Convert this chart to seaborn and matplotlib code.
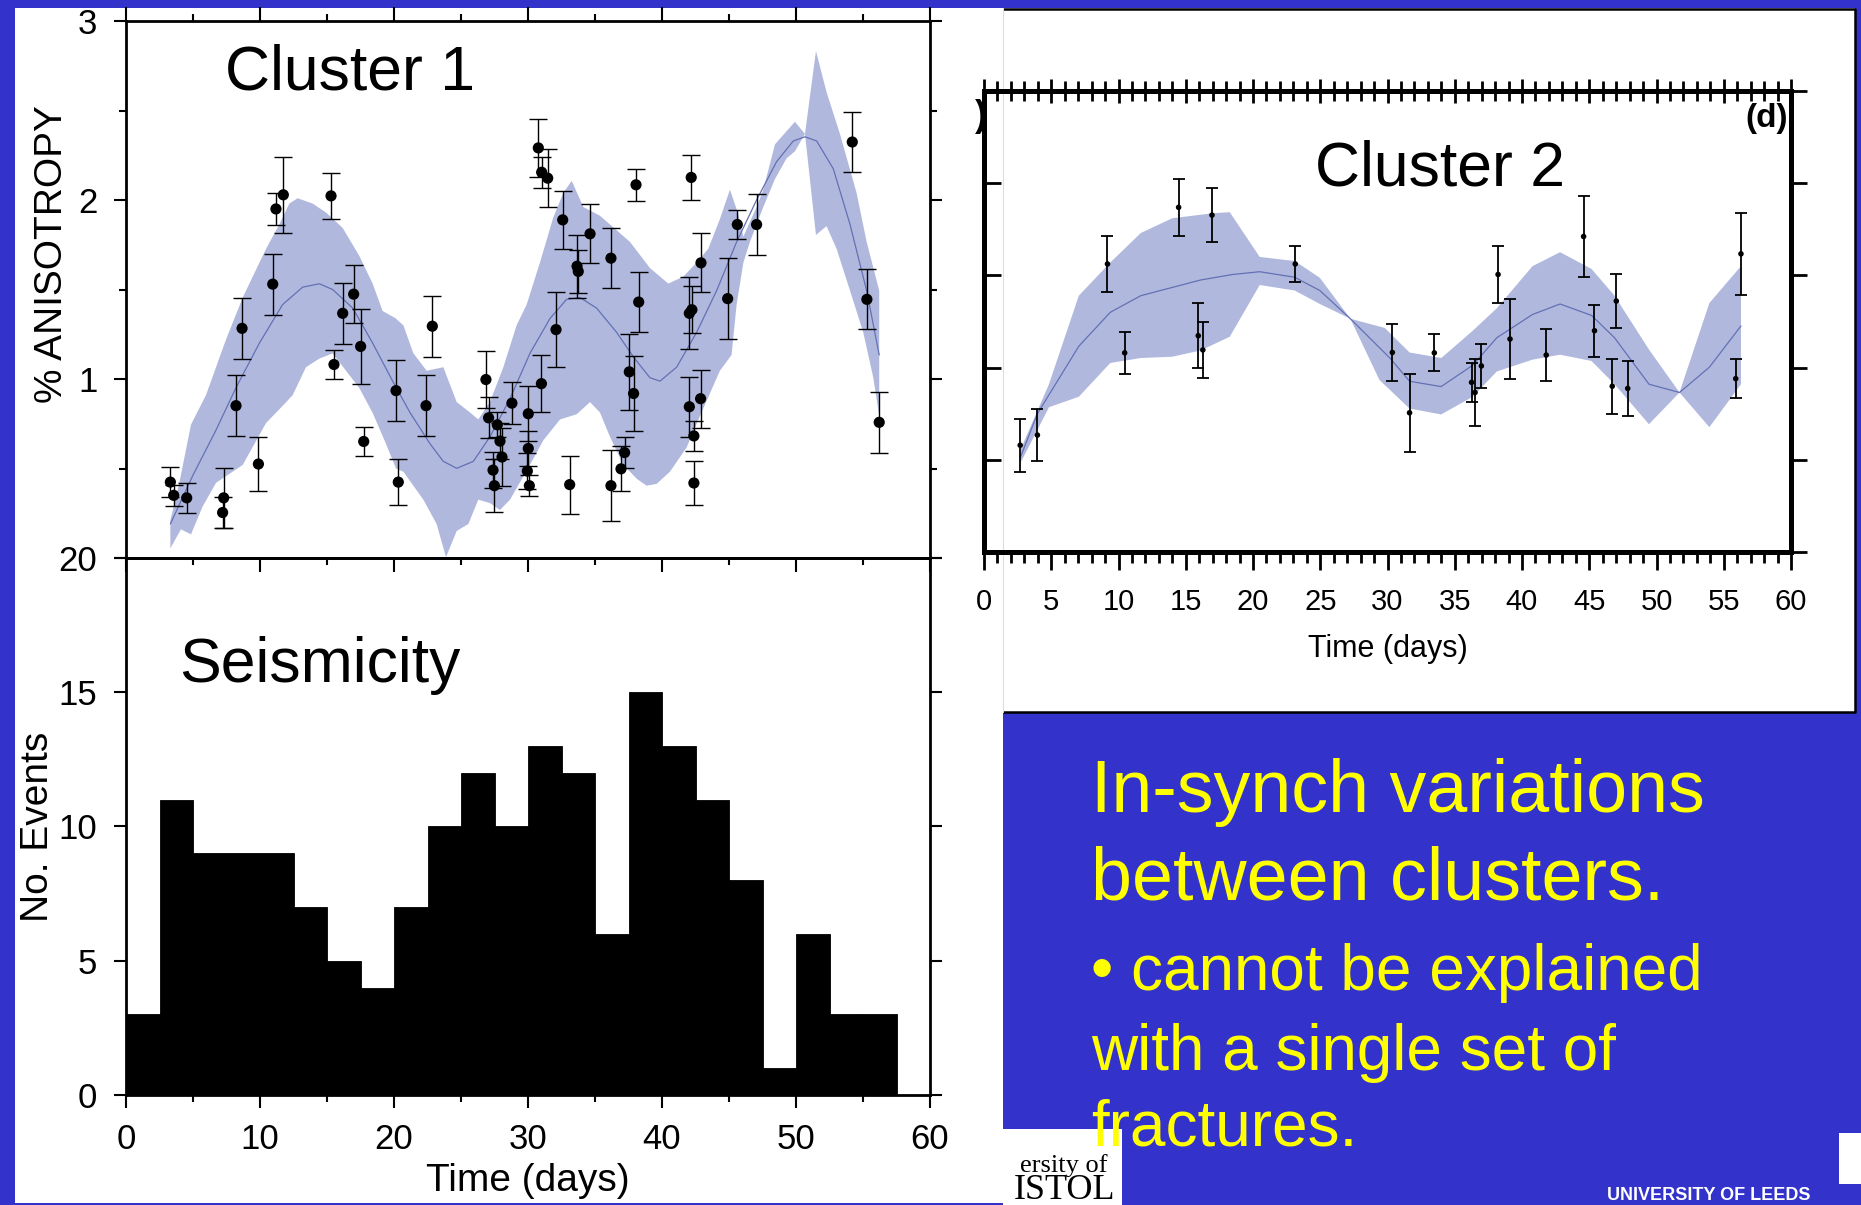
import numpy as np
import matplotlib
matplotlib.use("Agg")
import matplotlib.pyplot as plt
import seaborn as sns
from matplotlib.patches import Rectangle
from matplotlib.ticker import MultipleLocator, NullFormatter

# ---------------- data ----------------
# Cluster 1 : shear-wave anisotropy measurements (time in days, % anisotropy, error)
c1_days = [3.31, 3.56, 4.53, 7.29, 7.21, 8.21, 8.66, 9.88, 10.95, 11.19, 11.74, 15.30, 15.52,
           16.17, 16.99, 17.51, 17.74, 20.15, 20.32, 22.39, 22.86, 26.86, 27.06, 27.39, 27.49,
           27.71, 27.91, 28.06, 28.80, 30.02, 30.02, 29.95, 30.10, 31.00, 32.09, 30.77, 31.02,
           31.47, 32.59, 33.66, 33.75, 34.63, 33.11, 36.19, 36.19, 36.94, 37.21, 37.56, 37.88,
           38.06, 38.26, 42.18, 42.91, 42.04, 42.23, 44.90, 45.62, 47.06, 42.04, 42.88, 42.38,
           42.38, 54.20, 55.29, 56.21]
c1_aniso = [0.424, 0.35, 0.336, 0.336, 0.254, 0.851, 1.283, 0.525, 1.53, 1.95, 2.029, 2.023, 1.081,
            1.367, 1.474, 1.182, 0.651, 0.935, 0.424, 0.851, 1.295, 0.997, 0.783, 0.491, 0.404,
            0.744, 0.653, 0.564, 0.865, 0.806, 0.612, 0.486, 0.404, 0.974, 1.276, 2.291, 2.155,
            2.122, 1.889, 1.63, 1.601, 1.811, 0.41, 1.675, 0.404, 0.498, 0.589, 1.04, 0.919,
            2.085, 1.43, 2.126, 1.649, 1.367, 1.387, 1.449, 1.863, 1.863, 0.845, 0.89, 0.682,
            0.419, 2.324, 1.445, 0.758]
c1_err = [0.085, 0.06, 0.083, 0.167, 0.085, 0.17, 0.172, 0.153, 0.17, 0.087, 0.211, 0.127, 0.083,
          0.17, 0.163, 0.21, 0.08, 0.17, 0.128, 0.17, 0.17, 0.16, 0.115, 0.1, 0.147,
          0.07, 0.1, 0.16, 0.118, 0.155, 0.1, 0.1, 0.06, 0.161, 0.211, 0.162, 0.088,
          0.163, 0.164, 0.177, 0.12, 0.165, 0.162, 0.167, 0.2, 0.126, 0.088, 0.214, 0.209,
          0.088, 0.168, 0.125, 0.165, 0.202, 0.13, 0.226, 0.082, 0.172, 0.167, 0.162, 0.084,
          0.125, 0.17, 0.168, 0.169]

# Cluster 1 : smoothed fit and its confidence band
c1_fit_days = [3.31, 4.98, 6.72, 8.2, 9.95, 11.69, 13.18, 14.43, 15.42, 16.92, 18.41, 19.9, 21.19,
               22.69, 23.68, 24.68, 25.92, 27.16, 28.66, 30.15, 31.64, 32.88, 33.88, 35.12, 36.62,
               37.86, 39.1, 39.85, 41.09, 42.58, 44.08, 45.57, 47.06, 48.55, 49.8, 50.67, 51.54,
               52.78, 54.03, 55.27, 56.21]
c1_fit = [0.19, 0.46, 0.715, 0.95, 1.2, 1.416, 1.513, 1.532, 1.50, 1.396, 1.2, 0.988, 0.813,
          0.638, 0.54, 0.501, 0.54, 0.677, 0.891, 1.144, 1.338, 1.445, 1.455, 1.396, 1.26,
          1.124, 1.007, 0.988, 1.066, 1.26, 1.494, 1.766, 2.0, 2.214, 2.33, 2.353, 2.33,
          2.175, 1.864, 1.494, 1.134]
c1_upper_days = [3.31, 3.98, 4.85, 5.97, 7.46, 8.71, 10.45, 11.44, 12.19, 12.81, 13.93, 14.93, 16.17,
                 17.41, 18.41, 19.15, 20.1, 20.7, 21.44, 22.44, 23.68, 24.68, 25.67, 26.29, 27.16,
                 28.16, 29.15, 29.9, 30.89, 31.89, 32.64, 33.26, 34.13, 35.37, 36.12, 37.61, 39.1,
                 40.47, 41.59, 42.58, 43.45, 44.32, 45.07, 45.69, 46.07, 47.06, 47.56, 48.43, 49.92,
                 50.67, 51.49, 52.28, 53.28, 54.52, 55.27, 56.21]
c1_upper = [0.21, 0.42, 0.745, 0.91, 1.22, 1.455, 1.727, 1.863, 1.98, 2.01, 1.98, 1.93, 1.844,
            1.688, 1.532, 1.38, 1.34, 1.30, 1.144, 1.046, 1.066, 0.871, 0.813, 0.774, 0.871,
            1.066, 1.30, 1.416, 1.65, 1.903, 2.04, 2.107, 1.961, 1.912, 1.863, 1.766, 1.62,
            1.533, 1.572, 1.65, 1.727, 1.893, 2.058, 1.922, 1.795, 1.961, 2.058, 2.311, 2.437,
            2.369, 2.832, 2.603, 2.369, 2.04, 1.767, 1.494]
c1_lower_days = [3.31, 4.1, 4.85, 5.72, 6.72, 8.71, 10.45, 11.69, 12.44, 13.43, 14.43, 15.42, 16.42,
                 17.41, 18.41, 19.4, 20.15, 20.7, 22.19, 23.18, 23.88, 24.68, 25.55, 26.29, 27.16,
                 27.91, 28.66, 30.15, 31.14, 32.39, 33.63, 34.63, 35.37, 36.12, 37.11, 38.11, 38.85,
                 39.6, 40.59, 41.84, 42.83, 44.32, 45.19, 45.57, 46.07, 46.56, 47.56, 48.43, 49.3,
                 49.92, 50.67, 51.49, 52.28, 53.03, 54.03, 55.02, 55.77, 56.21]
c1_lower = [0.054, 0.16, 0.132, 0.288, 0.42, 0.52, 0.754, 0.85, 0.91, 1.066, 1.114, 1.143, 1.046,
            0.95, 0.81, 0.638, 0.50, 0.482, 0.326, 0.19, 0.005, 0.151, 0.19, 0.326, 0.307,
            0.268, 0.326, 0.521, 0.657, 0.774, 0.803, 0.871, 0.813, 0.677, 0.521, 0.443, 0.404,
            0.414, 0.482, 0.618, 0.793, 1.046, 1.134, 1.416, 1.649, 1.766, 1.961, 2.117, 2.233,
            2.272, 2.369, 1.805, 1.854, 1.727, 1.494, 1.26, 1.007, 0.793]

# Cluster 2
c2_days = [2.69, 3.97, 9.18, 10.46, 14.47, 15.93, 16.27, 16.95, 23.14, 30.36, 31.64, 33.48, 36.25,
           36.51, 36.98, 38.22, 39.11, 41.8, 44.58, 45.39, 46.71, 47.01, 47.86, 55.89, 56.28]
c2_aniso = [0.579, 0.634, 1.562, 1.08, 1.869, 1.173, 1.096, 1.827, 1.562, 1.082, 0.755, 1.08, 0.92,
            0.865, 1.009, 1.505, 1.155, 1.068, 1.711, 1.2, 0.899, 1.361, 0.887, 0.94, 1.617]
c2_err = [0.143, 0.14, 0.15, 0.113, 0.155, 0.175, 0.15, 0.147, 0.1, 0.155, 0.21, 0.1, 0.107,
          0.18, 0.118, 0.153, 0.218, 0.14, 0.217, 0.142, 0.15, 0.145, 0.149, 0.107, 0.222]
c2_fit_days = [2.69, 3.97, 7.05, 9.39, 11.66, 16.1, 18.49, 20.5, 23.1, 24.97, 27.24, 30.23, 31.64,
               33.99, 36.34, 38.13, 40.78, 42.83, 45.17, 46.88, 49.44, 51.71, 53.93, 56.28]
c2_fit = [0.51, 0.75, 1.116, 1.3, 1.39, 1.475, 1.505, 1.52, 1.49, 1.418, 1.265, 1.048, 0.926,
          0.897, 1.013, 1.162, 1.288, 1.345, 1.283, 1.162, 0.91, 0.865, 1.002, 1.226]
c2_upper_days = [2.69, 4.83, 7.05, 9.39, 11.66, 14.0, 16.99, 18.27, 20.5, 23.1, 24.97, 27.24, 29.8,
                 31.64, 34.0, 36.34, 38.13, 40.78, 42.83, 45.17, 46.88, 49.44, 51.71, 53.93, 56.28]
c2_upper = [0.55, 0.91, 1.39, 1.57, 1.73, 1.81, 1.837, 1.843, 1.6, 1.578, 1.487, 1.265, 1.215,
            1.082, 1.052, 1.2, 1.322, 1.55, 1.626, 1.535, 1.39, 1.098, 0.865, 1.35, 1.55]
c2_lower_days = [2.69, 4.83, 7.05, 9.39, 11.66, 14.0, 16.1, 18.27, 20.5, 23.1, 24.97, 27.24, 29.4,
                 31.64, 33.99, 36.34, 38.13, 40.78, 42.83, 45.17, 46.88, 49.44, 51.71, 53.93, 56.28]
c2_lower = [0.48, 0.785, 0.842, 1.025, 1.052, 1.059, 1.093, 1.167, 1.448, 1.418, 1.345, 1.265, 0.933,
            0.778, 0.746, 0.842, 0.979, 1.043, 1.07, 1.036, 0.91, 0.693, 0.865, 0.677, 0.91]

# Seismicity histogram (2.5-day bins)
seis_bin_start = [0, 2.5, 5, 7.5, 10, 12.5, 15, 17.5, 20, 22.5, 25, 27.5,
                  30, 32.5, 35, 37.5, 40, 42.5, 45, 47.5, 50, 52.5, 55, 57.5]
seis_counts = [3, 11, 9, 9, 9, 7, 5, 4, 7, 10, 12, 10,
               13, 12, 6, 15, 13, 11, 8, 1, 6, 3, 3, 0]
seis_bin_width = 2.5

# Slide text
slide_lines = ["In-synch variations", "between clusters.", "\u2022 cannot be explained",
               "with a single set of", "fractures."]

# ---------------- style ----------------
sns.set_theme(style="ticks")
plt.rcParams["font.family"] = ["Liberation Sans", "DejaVu Sans"]
for k in ["text.color", "axes.labelcolor", "xtick.color", "ytick.color", "axes.edgecolor"]:
    plt.rcParams[k] = "black"

W, H = 1861, 1205
BLUE = "#3333cc"
BAND = "#b0b9dd"
LINE = "#6470b4"
YELLOW = "#ffff00"

fig = plt.figure(figsize=(W / 100, H / 100), dpi=100, facecolor=BLUE)
bg = fig.add_axes([0, 0, 1, 1], zorder=-10)
bg.set_xlim(0, W)
bg.set_ylim(H, 0)
bg.axis("off")


def rect(x0, y0, x1, y1, **kw):
    p = Rectangle((x0, y0), x1 - x0, y1 - y0, **kw)
    bg.add_patch(p)
    return p


rect(15, 8, 1003, 1203, fc="white", ec="none")
rect(1003, 8, 1855, 712, fc="white", ec="none")
bg.plot([1003, 1855, 1855, 1003], [8.5, 8.5, 712, 712], color="black", lw=1.8,
        solid_capstyle="butt")
bg.plot([1003, 1003], [8, 712], color="#dddddd", lw=0.8)
rect(1003, 1129, 1122, 1206, fc="white", ec="none")
rect(1839, 1133, 1862, 1184, fc="white", ec="none")


def px_axes(l, t, r, b, z):
    ax = fig.add_axes([l / W, 1 - b / H, (r - l) / W, (b - t) / H], zorder=z)
    ax.set_facecolor("none")
    return ax


ax2 = px_axes(126, 558, 930, 1095, 1)
ax1 = px_axes(126, 21, 930, 558, 2)
ax3 = px_axes(984, 91, 1791, 552, 1)

# ---------------- Cluster 1 ----------------
ax1.fill(np.r_[c1_upper_days, c1_lower_days[::-1]], np.r_[c1_upper, c1_lower[::-1]],
         color=BAND, lw=0, zorder=1)
sns.lineplot(x=c1_fit_days, y=c1_fit, ax=ax1, color=LINE, lw=0.9, estimator=None, zorder=2)
ax1.errorbar(c1_days, c1_aniso, yerr=c1_err, fmt="none", ecolor="black", elinewidth=1.0,
             capsize=6.5, capthick=1.0, zorder=4)
sns.scatterplot(x=c1_days, y=c1_aniso, ax=ax1, color="black", s=65, edgecolor="none", zorder=5)
ax1.set_xlim(0, 60)
ax1.set_ylim(0, 3)
ax1.set_xlabel("")
ax1.set_ylabel("% ANISOTROPY", fontsize=28)
ax1.yaxis.set_label_coords(-0.070, 0.566)
ax1.xaxis.set_major_locator(MultipleLocator(10))
ax1.xaxis.set_minor_locator(MultipleLocator(5))
ax1.set_yticks([0, 1, 2, 3])
ax1.set_yticklabels(["", "1", "2", "3"])
ax1.yaxis.set_minor_locator(MultipleLocator(0.5))
ax1.tick_params(axis="x", which="both", bottom=True, top=True, direction="out",
                labelbottom=False, width=1.5)
ax1.tick_params(axis="x", which="major", length=10)
ax1.tick_params(axis="x", which="minor", length=5)
ax1.tick_params(axis="y", which="both", left=True, right=True, direction="out", width=1.5,
                labelsize=25, pad=12)
ax1.tick_params(axis="y", which="major", length=8.6)
ax1.tick_params(axis="y", which="minor", length=5)
for s in ax1.spines.values():
    s.set_linewidth(2.0)
ax1.text(0.123, 0.873, "Cluster 1", transform=ax1.transAxes, fontsize=45,
         ha="left", va="baseline")

# ---------------- Seismicity ----------------
edges = list(seis_bin_start) + [seis_bin_start[-1] + seis_bin_width]
centers = [b + seis_bin_width / 2 for b in seis_bin_start]
sns.histplot(x=centers, weights=seis_counts, bins=edges, ax=ax2, color="black", alpha=1,
             edgecolor="black", linewidth=0.6, element="bars")
ax2.set_xlim(0, 60)
ax2.set_ylim(0, 20)
ax2.set_yticks([0, 5, 10, 15, 20])
ax2.xaxis.set_major_locator(MultipleLocator(10))
ax2.xaxis.set_minor_locator(MultipleLocator(5))
ax2.tick_params(axis="y", which="major", left=True, right=True, direction="out", length=8.6,
                width=1.5, labelsize=25, pad=12)
ax2.tick_params(axis="x", which="both", bottom=True, top=False, direction="out", width=1.5,
                labelsize=25, pad=11)
ax2.tick_params(axis="x", which="major", length=9.4)
ax2.tick_params(axis="x", which="minor", length=5)
ax2.set_ylabel("No. Events", fontsize=28)
ax2.yaxis.set_label_coords(-0.087, 0.50)
ax2.set_xlabel("Time (days)", fontsize=28)
ax2.xaxis.set_label_coords(0.5, -0.127)
for s in ax2.spines.values():
    s.set_linewidth(2.0)
ax2.text(0.066, 0.769, "Seismicity", transform=ax2.transAxes, fontsize=45,
         ha="left", va="baseline")

# ---------------- Cluster 2 ----------------
ax3.fill(np.r_[c2_upper_days, c2_lower_days[::-1]], np.r_[c2_upper, c2_lower[::-1]],
         color=BAND, lw=0, zorder=1)
sns.lineplot(x=c2_fit_days, y=c2_fit, ax=ax3, color=LINE, lw=0.9, estimator=None, zorder=2)
ax3.errorbar(c2_days, c2_aniso, yerr=c2_err, fmt="none", ecolor="black", elinewidth=1.3,
             capsize=4.5, capthick=1.3, zorder=4)
sns.scatterplot(x=c2_days, y=c2_aniso, ax=ax3, color="black", s=16, edgecolor="none", zorder=5)
ax3.set_xlim(0, 60)
ax3.set_ylim(0, 2.5)
ax3.set_ylabel("")
ax3.xaxis.set_major_locator(MultipleLocator(5))
ax3.xaxis.set_minor_locator(MultipleLocator(1))
ax3.yaxis.set_major_locator(MultipleLocator(0.5))
ax3.tick_params(axis="x", which="both", bottom=True, top=False, direction="out", width=2.0,
                labelsize=21, pad=13)
ax3.tick_params(axis="x", which="major", length=13)
ax3.tick_params(axis="x", which="minor", length=8)
ax3.tick_params(axis="y", which="both", left=True, right=False, direction="in", length=12,
                width=2.0, labelleft=False)
ax3.set_xlabel("Time (days)", fontsize=22)
ax3.xaxis.set_label_coords(0.5, -0.178)
for s in ax3.spines.values():
    s.set_linewidth(3.6)

secx = ax3.secondary_xaxis("top")
secx.xaxis.set_major_locator(MultipleLocator(5))
secx.xaxis.set_minor_locator(MultipleLocator(1))
secx.xaxis.set_major_formatter(NullFormatter())
secx.xaxis.set_minor_formatter(NullFormatter())
secx.tick_params(axis="x", which="both", direction="inout", width=2.0)
secx.tick_params(axis="x", which="major", length=17)
secx.tick_params(axis="x", which="minor", length=14)
secx.spines["top"].set_linewidth(3.6)

secy = ax3.secondary_yaxis("right")
secy.yaxis.set_major_locator(MultipleLocator(0.5))
secy.yaxis.set_major_formatter(NullFormatter())
secy.tick_params(axis="y", which="major", direction="out", length=11.5, width=2.0)
secy.spines["right"].set_linewidth(3.6)

ax3.text(0.41, 0.796, "Cluster 2", transform=ax3.transAxes, fontsize=45,
         ha="left", va="baseline")
ax3.text(0.970, 0.941, "(d)", transform=ax3.transAxes, fontsize=24, fontweight="bold",
         ha="center", va="center")
fig.text(981, 116, ")", transform=bg.transData, fontsize=26, fontweight="bold",
         ha="center", va="center", zorder=6)

# ---------------- slide text ----------------
for s, yb, fs in zip(slide_lines, [812, 900, 990, 1070, 1146], [53, 53, 46, 46, 46]):
    fig.text(1091, yb, s, transform=bg.transData, color=YELLOW, fontsize=fs,
             ha="left", va="baseline", zorder=20)

serif = ["Liberation Serif", "DejaVu Serif"]
fig.text(1108, 1172, "ersity of", transform=bg.transData, color="black", fontsize=19,
         family=serif, ha="right", va="baseline", zorder=10)
fig.text(1115, 1199, "ISTOL", transform=bg.transData, color="black", fontsize=26,
         family=serif, ha="right", va="baseline", zorder=10)
fig.text(1607, 1187, "UNIVERSITY OF LEEDS", transform=bg.transData, color="white", fontsize=13,
         fontweight="bold", ha="left", va="top", zorder=10)

fig.savefig("out.png", dpi=100, facecolor=BLUE)
